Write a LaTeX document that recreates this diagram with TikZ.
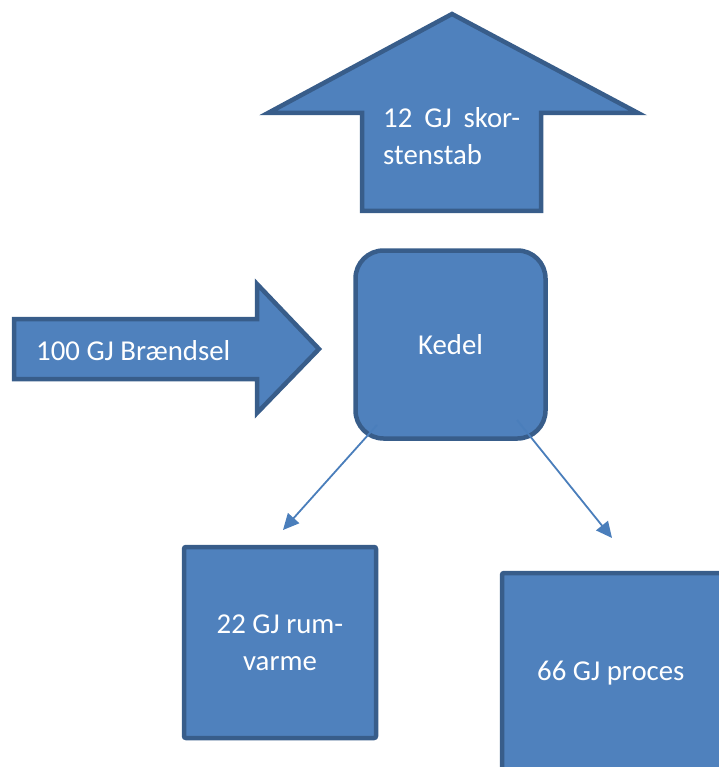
\documentclass[tikz,border=0pt]{standalone}
\usepackage{fontspec}
\setmainfont{Carlito}
\usetikzlibrary{arrows.meta}
\definecolor{shapefill}{HTML}{4F81BD}
\definecolor{shapeline}{HTML}{385D8A}
\definecolor{conn}{HTML}{4A7EBB}
\tikzset{
  shapestyle/.style={fill=shapefill, draw=shapeline, line width=4.5pt, line join=miter},
  lbl/.style={text=white, font=\fontsize{28.8}{37}\selectfont, inner sep=0pt},
  conline/.style={draw=conn, line width=1.8pt, -{Triangle[length=16pt,width=15pt]}}
}
\begin{document}
\begin{tikzpicture}[x=1pt,y=-1pt]
\useasboundingbox (0,0) rectangle (718,767);
% top arrow (skorstenstab)
\draw[shapestyle] (362,211) -- (362,113) -- (268,113) -- (452,14) -- (638,113) -- (541,113) -- (541,211) -- cycle;
\node[lbl, anchor=base west] (top1) at (383,128) {\makebox[137pt][s]{12 GJ skor-}};
\node[lbl, anchor=base west] (top2) at (383,165) {stenstab};
% left arrow (braendsel)
\draw[shapestyle] (14,319) -- (257,319) -- (257,284) -- (319,349) -- (257,413) -- (257,379) -- (14,379) -- cycle;
\node[lbl, anchor=base west] (fuel) at (36,360) {100 GJ Brændsel};
% Kedel
\node[shapestyle, rounded corners=28pt, minimum width=190pt, minimum height=188pt, inner sep=0pt] (kedel) at (450.5,344.5) {};
\node[lbl] (kedeltxt) at (kedel.center) {Kedel};
% rumvarme
\node[shapestyle, rounded corners=2pt, minimum width=192pt, minimum height=191pt, inner sep=0pt] (rum) at (280,642.5) {};
\node[lbl, anchor=base] (rum1) at (280,633) {22 GJ rum-};
\node[lbl, anchor=base] (rum2) at (280,670) {varme};
% proces
\draw[shapestyle, rounded corners=2pt] (730,573) -- (502,573) -- (502,780) -- (730,780);
\node[lbl, anchor=base west] (proc) at (537,680) {66 GJ proces};
% connectors
\coordinate (k1) at (377,425);
\coordinate (k2) at (517,420);
\coordinate (e1) at (283,530);
\coordinate (e2) at (612,538);
\draw[conline] (k1) -- (e1);
\draw[conline] (k2) -- (e2);
\end{tikzpicture}
\end{document}
